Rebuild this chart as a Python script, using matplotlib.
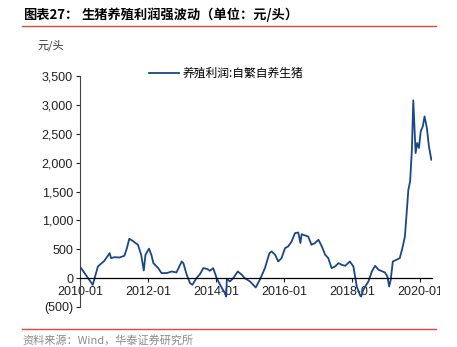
import numpy as np
import pandas as pd
import matplotlib
matplotlib.use('Agg')
from matplotlib import pyplot as plt
from matplotlib.ticker import FuncFormatter
from matplotlib.transforms import Bbox

plt.rcParams['font.family'] = ['Liberation Sans', 'Noto Sans CJK SC', 'DejaVu Sans']

# Hog farming profit, self-bred pigs (yuan / head)
dates = ['2010-01-01', '2010-05-18', '2010-07-12', '2010-08-01', '2010-09-20', '2010-11-15',
         '2010-12-01', '2011-01-08', '2011-03-01', '2011-04-22', '2011-05-20', '2011-06-14',
         '2011-07-20', '2011-09-15', '2011-10-20', '2011-11-17', '2011-12-05', '2012-01-12',
         '2012-02-07', '2012-02-28', '2012-04-20', '2012-05-25', '2012-07-20', '2012-09-12',
         '2012-11-02', '2012-12-28', '2013-01-15', '2013-02-20', '2013-03-28', '2013-04-22',
         '2013-06-05', '2013-07-12', '2013-08-18', '2013-09-25', '2013-10-26', '2013-12-01',
         '2014-01-08', '2014-02-14', '2014-04-05', '2014-04-20', '2014-04-27', '2014-05-30',
         '2014-07-05', '2014-08-22', '2014-10-05', '2014-11-05', '2015-01-01', '2015-03-03',
         '2015-04-16', '2015-06-10', '2015-07-28', '2015-08-22', '2015-09-28', '2015-10-30',
         '2015-12-05', '2016-01-12', '2016-02-14', '2016-03-22', '2016-04-28', '2016-06-02',
         '2016-06-25', '2016-07-08', '2016-09-16', '2016-10-22', '2016-11-28', '2017-01-05',
         '2017-02-10', '2017-03-18', '2017-04-20', '2017-05-26', '2017-07-01', '2017-08-08',
         '2017-09-12', '2017-10-18', '2017-12-08', '2018-01-15', '2018-02-20', '2018-03-28',
         '2018-04-08', '2018-05-01', '2018-06-25', '2018-08-01', '2018-09-05', '2018-10-12',
         '2018-12-20', '2019-01-15', '2019-02-03', '2019-02-20', '2019-03-14', '2019-04-22',
         '2019-05-28', '2019-06-25', '2019-07-22', '2019-08-10', '2019-08-28', '2019-09-16',
         '2019-10-05', '2019-10-20', '2019-11-14', '2019-12-01', '2019-12-20', '2020-01-08',
         '2020-01-30', '2020-02-18', '2020-03-14', '2020-04-05', '2020-05-01']
profit = [200, -116, 200, 230, 300, 433,
          346, 363, 357, 386, 520, 681,
          646, 577, 404, 132, 404, 510,
          400, 260, 173, 87, 87, 115,
          98, 288, 260, 57, -87, -116,
          0, 69, 173, 161, 127, 173,
          0, -116, -260, -318, -12, -58,
          0, 115, 57, 0, -58, -162,
          -29, 173, 433, 461, 404, 288,
          346, 520, 548, 634, 780, 790,
          607, 760, 721, 577, 607, 664,
          548, 404, 346, 173, 201, 260,
          230, 213, 288, 201, -145, -300,
          -318, -203, -58, 115, 213, 144,
          98, 28, -145, -29, 288, 317,
          346, 520, 721, 1127, 1530, 1675,
          2223, 3078, 2166, 2340, 2253, 2541,
          2627, 2800, 2600, 2280, 2050]

tick_dates = ['2010-01-01', '2012-01-01', '2014-01-01', '2016-01-01', '2018-01-01', '2020-01-01']
tick_labels = ['2010-01', '2012-01', '2014-01', '2016-01', '2018-01', '2020-01']
y_ticks = [-500, 0, 500, 1000, 1500, 2000, 2500, 3000, 3500]

title_no = '图表27：'
title_text = '生猪养殖利润强波动（单位：元/头）'
unit_text = '元/头'
series_name = '养殖利润:自繁自养生猪'
source_text = '资料来源：Wind，华泰证券研究所'

line_color = '#1a4789'
cjk = ['Noto Sans CJK SC', 'DejaVu Sans']

fig = plt.figure(figsize=(4.57, 3.47), dpi=100)
ax = fig.add_axes([80 / 457, 1 - 307 / 347, (432 - 80) / 457, (307 - 76) / 347])

x = pd.to_datetime(dates)
ax.plot(x, profit, color=line_color, lw=1.3, label=series_name)

ax.set_xlim(pd.Timestamp('2010-01-01'), pd.Timestamp('2020-05-08'))
ax.set_ylim(-500, 3500)

ax.set_yticks(y_ticks)
ax.yaxis.set_major_formatter(FuncFormatter(
    lambda v, p: '({:,.0f})'.format(-v) if v < 0 else '{:,.0f}'.format(v)))
ax.set_xticks(pd.to_datetime(tick_dates))
ax.set_xticklabels(tick_labels)

for s in ['top', 'right']:
    ax.spines[s].set_visible(False)
ax.spines['bottom'].set_position(('data', 0))
ax.spines['bottom'].set_color('black')
ax.spines['bottom'].set_linewidth(0.9)
ax.spines['left'].set_color('#444444')
ax.spines['left'].set_linewidth(0.8)
ax.tick_params(axis='both', labelsize=9, length=3, width=0.8, colors='#222222', pad=2)
ax.tick_params(axis='x', pad=3)

# last date label runs off the chart edge
fig.canvas.draw()
for lbl in ax.get_xticklabels():
    lbl.set_clip_on(True)
    lbl.set_clip_box(Bbox([[0, 0], [440, 347]]))

leg = ax.legend(loc='upper left', bbox_to_anchor=(0.166, 1.085), frameon=False,
                handlelength=2.5, handletextpad=0.35,
                prop={'family': cjk, 'size': 8.5})

# header and footer
fig.text(23 / 457, 1 - 15 / 347, title_no, fontsize=9.5, fontweight='bold',
         family=cjk, va='center', ha='left')
fig.text(82 / 457, 1 - 15 / 347, title_text, fontsize=9.5, fontweight='bold',
         family=cjk, va='center', ha='left')
fig.add_artist(plt.Line2D([22 / 457, 436 / 457], [1 - 26 / 347] * 2, color='#e8473a', lw=1.0))
fig.text(37 / 457, 1 - 45 / 347, unit_text, fontsize=8, family=cjk, color='#333333',
         va='center', ha='left')
fig.add_artist(plt.Line2D([22 / 457, 436 / 457], [1 - 329 / 347] * 2, color='#e8473a', lw=1.0))
fig.text(22 / 457, 1 - 340 / 347, source_text, fontsize=8, family=cjk, color='#8a8a8a',
         va='center', ha='left')

fig.savefig('out.png', dpi=100)
